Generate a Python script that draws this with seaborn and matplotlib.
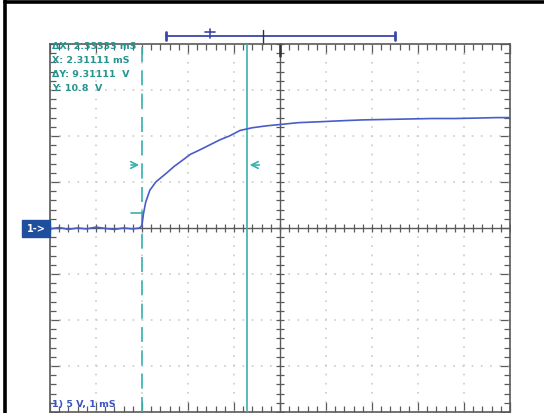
import numpy as np
import pandas as pd
import seaborn as sns
import matplotlib.pyplot as plt
from matplotlib.lines import Line2D
from matplotlib.patches import Rectangle
from matplotlib.ticker import MultipleLocator

# ---- data (time in ms, voltage in V) ----
time_ms = [0.0, 0.2, 0.4, 0.6, 0.8, 1.0, 1.2, 1.4, 1.6, 1.8, 1.95, 2.0,
           2.03, 2.08, 2.17, 2.3, 2.54, 2.7, 2.89, 3.05, 3.26, 3.5, 3.7, 3.9,
           4.13, 4.4, 4.7, 5.0, 5.4, 5.87, 6.3, 6.8, 7.3, 7.8, 8.3, 8.8, 9.3, 9.7, 10.0]
volts = [-0.1, 0.05, -0.15, 0.0, -0.1, 0.1, -0.05, -0.15, 0.0, -0.1, 0.0, 0.3,
         1.5, 2.8, 4.1, 5.0, 6.0, 6.7, 7.4, 8.0, 8.5, 9.1, 9.6, 10.0,
         10.6, 10.9, 11.1, 11.25, 11.45, 11.55, 11.65, 11.75, 11.8, 11.85, 11.9, 11.9, 11.95, 12.0, 12.0]

cursor_t = [2.0, 4.28]
readouts = ["ΔX: 2.33333 mS", "X: 2.31111 mS", "ΔY: 9.31111  V", "Y: 10.8  V"]
scale_label = "1) 5 V, 1 mS"
channel_label = "1->"

df = pd.DataFrame({"t": time_ms, "v": volts})

sns.set_theme(style="white")
plt.rcParams['font.family'] = ['DejaVu Sans']

W, H = 544, 413
fig = plt.figure(figsize=(W / 100, H / 100), dpi=100)
fig.patch.set_facecolor("white")
ax = fig.add_axes([50 / W, 1 / H, 460 / W, 368 / H])
ax.set_xlim(0, 10)
ax.set_ylim(-20, 20)
ax.set_facecolor("white")

frame_col = "#5a5a5a"
grid_col = "#cccccc"
teal = "#38b2ab"
blue = "#4a5cc8"

# dotted graticule
for x in range(1, 10):
    if x != 5:
        ax.axvline(x, color=grid_col, lw=1.2, ls=(0, (1, 4.5)), zorder=1)
for y in range(-15, 20, 5):
    if y != 0:
        ax.axhline(y, color=grid_col, lw=1.2, ls=(0, (1, 4.5)), zorder=1)

# center cross with ticks
ax.axhline(0, color=frame_col, lw=1.0, zorder=2)
ax.axvline(5, color=frame_col, lw=1.0, zorder=2)
xm = np.arange(0, 10.01, 0.2)
ax.plot(xm, np.zeros_like(xm), ls="none", marker="|", ms=6, mew=0.9, color=frame_col, zorder=2)
ym = np.arange(-20, 20.01, 1.0)
ax.plot(np.full_like(ym, 5), ym, ls="none", marker="_", ms=6, mew=0.9, color=frame_col, zorder=2)

# frame ticks
ax.xaxis.set_major_locator(MultipleLocator(1))
ax.xaxis.set_minor_locator(MultipleLocator(0.2))
ax.yaxis.set_major_locator(MultipleLocator(5))
ax.yaxis.set_minor_locator(MultipleLocator(1))
ax.tick_params(which="both", direction="in", top=True, right=True, bottom=True, left=True,
               labelbottom=False, labelleft=False, color=frame_col, width=0.9)
ax.tick_params(which="major", length=7)
ax.tick_params(which="minor", length=4)
for s in ax.spines.values():
    s.set_color(frame_col)
    s.set_linewidth(1.2)

# cursors
ax.axvline(cursor_t[0], color=teal, lw=1.2, ls=(0, (9, 5)), zorder=3)
ax.axvline(cursor_t[1], color=teal, lw=1.2, zorder=3)
ax.annotate("", xy=(cursor_t[0], 6.85), xytext=(1.70, 6.85),
            arrowprops=dict(arrowstyle="->", color=teal, lw=1.2))
ax.annotate("", xy=(cursor_t[1], 6.85), xytext=(4.61, 6.85),
            arrowprops=dict(arrowstyle="->", color=teal, lw=1.2))
ax.plot([1.75, cursor_t[0]], [1.63, 1.63], color=teal, lw=1.2)

# trace
sns.lineplot(data=df, x="t", y="v", color=blue, lw=1.2, ax=ax, zorder=4)
ax.set_xlabel("")
ax.set_ylabel("")

# top position bar
bar_col = "#3a48a8"
ax.plot([2.52, 7.5], [20.87, 20.87], color=bar_col, lw=1.3, clip_on=False)
for xe in (2.52, 7.5):
    ax.plot([xe, xe], [20.45, 21.3], color=bar_col, lw=2, clip_on=False)
ax.plot([3.48, 3.48], [20.6, 21.6], color=bar_col, lw=1.2, clip_on=False)
ax.plot([3.38, 3.58], [21.25, 21.25], color=bar_col, lw=1.2, clip_on=False)
ax.plot([4.63, 4.63], [20.0, 21.5], color="#333333", lw=1.0, clip_on=False)
ax.plot([5.0, 5.0], [20.0, 18.7], color="#333333", lw=1.8, clip_on=False)

# readouts
ys = [0.992, 0.954, 0.916, 0.878]
for txt, yy in zip(readouts, ys):
    ax.text(0.004, yy, txt, transform=ax.transAxes, ha="left", va="center",
            fontsize=6.8, fontweight="bold", color="#26948f", zorder=5)
ax.text(0.004, 0.02, scale_label, transform=ax.transAxes, ha="left", va="center",
        fontsize=6.8, fontweight="bold", color="#3a55c0", zorder=5)

# channel marker box
fig.patches.append(Rectangle((22 / W, (H - 237) / H), 28 / W, 17 / H,
                             transform=fig.transFigure, color="#1f4e9c", zorder=5))
fig.text(36 / W, (H - 228.5) / H, channel_label, ha="center", va="center",
         fontsize=7, fontweight="bold", color="white", zorder=6)

# outer black frame (left and top)
fig.add_artist(Line2D([4.5 / W, 4.5 / W], [0, 1], color="black", lw=2.6, transform=fig.transFigure))
fig.add_artist(Line2D([4.5 / W, 1], [1 - 1.5 / H, 1 - 1.5 / H], color="black", lw=2.6,
                      transform=fig.transFigure))

fig.savefig("out.png", dpi=100)
